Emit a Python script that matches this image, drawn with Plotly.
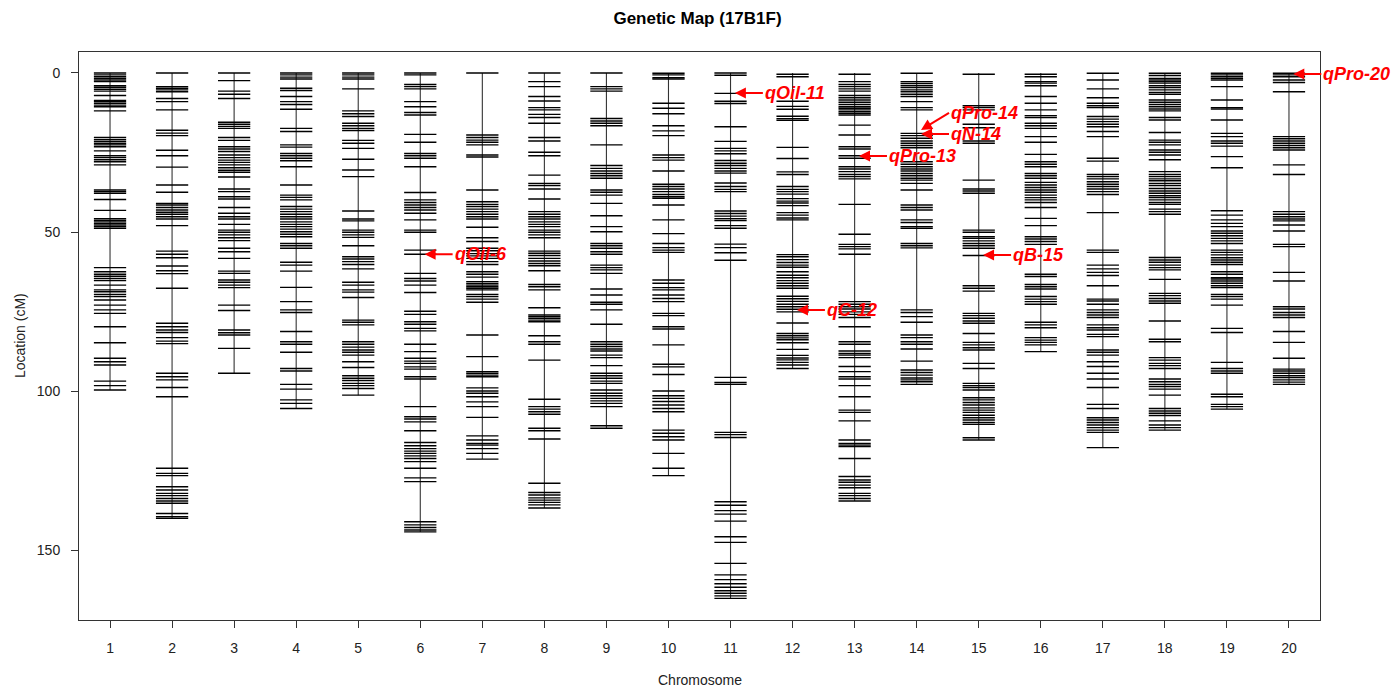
import plotly.graph_objects as go

# ---------------- data (marker positions in cM) ----------------
chr01 = [0, 0.6, 1.2, 1.7, 2.2, 2.7, 4.0, 4.5, 5.1, 5.7, 7.1, 8.6, 9.0, 9.5, 10.1, 10.6, 11.9,
         20.3, 21.0, 21.6, 22.2, 22.6, 23.2, 24.5, 26.0, 26.6, 27.3, 27.9, 28.9, 36.8, 37.3, 37.8,
         39.8, 43.2, 45.8, 46.3, 46.8, 47.3, 47.8, 48.3, 48.8, 61.2, 62.5, 63.3, 63.9, 64.6, 65.3,
         66.7, 68.2, 68.8, 69.6, 70.3, 71.4, 73.0, 74.5, 75.6, 79.8, 84.8, 89.7, 90.8, 91.8, 96.9,
         98.3, 99.7]
chr02 = [0, 4.3, 4.8, 5.3, 5.9, 8.0, 9.0, 11.6, 18.0, 18.9, 19.7, 24.3, 26.0, 29.6, 35.2, 37.5,
         41.0, 41.5, 42.3, 43.1, 43.8, 44.4, 45.2, 45.9, 48.0, 56.0, 57.0, 58.1, 60.7, 62.2, 63.1,
         67.7, 78.7, 79.8, 80.8, 81.6, 83.2, 84.3, 85.1, 94.4, 95.5, 96.5, 98.9, 101.8, 124.3, 125.9,
         126.6, 130.1, 131.1, 132.2, 132.9, 133.8, 134.6, 135.3, 138.5, 139.5, 140.0]
chr03 = [0, 2.4, 5.7, 6.7, 8.0, 15.5, 16.1, 16.8, 17.4, 20.3, 21.2, 23.2, 23.9, 24.7, 25.8, 26.6,
         27.4, 28.1, 28.9, 29.8, 30.6, 31.2, 32.7, 36.5, 37.3, 38.9, 39.6, 42.3, 44.1, 45.2, 45.9,
         47.6, 49.4, 50.1, 50.9, 51.8, 52.7, 55.1, 56.2, 58.3, 62.3, 63.0, 65.1, 65.8, 66.7, 67.5,
         73.0, 74.7, 80.8, 81.7, 82.4, 86.6, 94.4]
chr04 = [0, 0.6, 1.3, 1.9, 4.8, 5.5, 7.4, 9.0, 9.9, 11.4, 17.4, 18.4, 22.6, 23.3, 25.3, 26.0, 26.8,
         27.6, 29.5, 35.2, 38.4, 39.1, 39.9, 42.0, 42.8, 43.6, 44.4, 45.2, 45.9, 46.8, 47.6, 48.3,
         49.1, 49.9, 50.7, 51.5, 53.6, 54.3, 55.1, 59.5, 60.4, 62.3, 67.4, 71.9, 74.5, 75.3, 81.3,
         84.5, 85.3, 87.8, 92.9, 93.7, 97.9, 99.4, 102.8, 103.9, 105.5]
chr05 = [0, 0.6, 1.3, 1.9, 5.0, 11.9, 12.8, 13.7, 15.8, 16.6, 17.4, 18.1, 21.2, 22.1, 23.7, 27.1,
         30.5, 32.6, 43.4, 45.9, 46.5, 49.4, 50.1, 50.9, 51.7, 54.3, 57.8, 58.5, 59.3, 60.2, 61.6,
         65.8, 66.7, 68.2, 68.9, 70.6, 77.7, 78.4, 79.2, 84.5, 85.3, 86.2, 87.1, 87.8, 88.7, 90.8,
         92.6, 95.2, 96.0, 96.7, 97.6, 98.3, 99.2, 101.3]
chr06 = [0, 0.6, 3.6, 4.3, 5.0, 9.0, 10.6, 12.4, 13.2, 19.3, 21.8, 25.3, 26.0, 26.8, 29.5, 37.6,
         39.9, 40.7, 41.5, 42.3, 43.1, 44.1, 46.2, 49.4, 50.1, 55.7, 57.0, 63.0, 64.6, 65.4, 66.7,
         69.0, 74.9, 75.9, 78.2, 79.0, 80.3, 81.1, 85.3, 87.6, 89.7, 90.6, 91.3, 92.4, 93.1, 95.5,
         96.2, 104.9, 108.1, 108.8, 109.7, 112.5, 116.2, 117.2, 118.1, 118.9, 119.6, 120.4, 121.2,
         122.2, 124.3, 127.3, 128.5, 141.1, 142.1, 142.9, 143.7, 144.3]
chr07 = [0, 19.5, 20.3, 21.1, 21.8, 22.6, 25.8, 26.4, 36.8, 40.5, 41.3, 42.0, 42.8, 43.6, 44.4,
         45.2, 45.9, 48.5, 51.8, 53.0, 55.1, 55.9, 56.8, 57.5, 58.3, 59.3, 60.2, 62.5, 63.3, 64.2,
         65.6, 66.2, 66.7, 67.2, 67.7, 68.2, 69.6, 70.3, 71.1, 72.1, 82.4, 89.2, 93.9, 94.4, 95.0,
         95.5, 99.0, 100.0, 100.7, 101.8, 103.4, 104.9, 108.3, 114.1, 115.4, 116.5, 117.0, 118.1,
         119.6, 121.4]
chr08 = [0, 2.7, 4.3, 7.4, 8.8, 10.9, 11.6, 13.0, 14.0, 15.8, 20.3, 21.4, 24.9, 26.0, 32.1, 34.7,
         35.4, 36.5, 39.6, 43.6, 44.4, 45.2, 45.9, 46.8, 47.6, 48.3, 49.4, 50.1, 50.9, 51.8, 56.0,
         56.7, 57.4, 58.3, 59.1, 59.9, 60.6, 62.2, 66.5, 67.2, 68.2, 73.8, 76.1, 76.6, 77.1, 77.7,
         78.2, 82.6, 84.5, 85.3, 90.3, 102.6, 104.9, 105.7, 106.5, 107.3, 111.7, 112.5, 115.1,
         129.0, 131.9, 132.7, 133.6, 134.3, 135.0, 135.8, 136.8]
chr09 = [0, 4.3, 5.0, 5.7, 14.3, 15.1, 15.8, 16.6, 22.6, 29.1, 30.0, 30.8, 31.6, 32.3, 33.1, 36.8,
         37.5, 38.4, 41.0, 44.9, 48.3, 49.9, 53.6, 54.3, 55.1, 56.2, 57.0, 60.4, 61.2, 61.9, 63.0,
         67.9, 69.8, 72.1, 72.7, 74.5, 79.0, 84.5, 85.3, 86.0, 86.8, 87.4, 88.7, 89.5, 92.0, 94.4,
         95.2, 96.0, 96.9, 97.6, 99.7, 100.7, 101.5, 102.3, 103.1, 103.9, 104.9, 110.9, 111.7]
chr10 = [0.1, 0.6, 1.5, 1.9, 9.5, 11.1, 12.8, 16.6, 18.2, 19.7, 25.8, 26.6, 27.4, 30.8, 35.0, 35.7,
         36.5, 37.3, 38.2, 38.9, 39.4, 41.5, 46.2, 50.5, 53.6, 54.9, 55.7, 56.4, 65.1, 66.1, 67.5,
         68.2, 69.8, 70.9, 71.9, 75.6, 76.3, 79.8, 80.5, 85.5, 91.6, 92.4, 94.8, 100.0, 101.5,
         102.3, 103.3, 104.4, 105.5, 106.5, 112.3, 113.3, 114.4, 115.4, 119.6, 124.3, 126.6]
chr11 = [0, 0.7, 6.4, 8.9, 9.6, 16.9, 21.5, 23.7, 24.5, 25.4, 27.5, 28.4, 29.1, 30.0, 30.8, 31.5,
         34.6, 35.7, 36.6, 37.3, 43.4, 44.2, 45.0, 45.8, 46.4, 48.0, 48.8, 53.8, 54.9, 56.5, 58.9,
         95.7, 97.3, 97.9, 113.0, 113.7, 114.6, 134.8, 135.9, 137.6, 138.7, 140.9, 145.8, 147.6,
         154.2, 157.8, 159.3, 160.6, 161.7, 162.8, 163.6, 164.4, 165.2]
chr12 = [0.4, 1.2, 8.9, 10.5, 11.4, 13.6, 14.4, 14.9, 23.4, 26.9, 31.1, 31.9, 35.7, 36.6, 37.3,
         38.1, 39.5, 40.3, 40.9, 41.7, 43.9, 44.7, 45.6, 46.2, 57.1, 57.8, 58.7, 59.6, 60.4, 61.1,
         62.5, 63.6, 64.4, 65.3, 66.1, 66.9, 67.7, 70.2, 71.0, 71.8, 72.7, 73.5, 74.3, 75.1, 78.6,
         81.9, 82.6, 83.3, 83.9, 84.8, 86.9, 88.8, 89.6, 90.2, 91.0, 91.8, 92.9]
chr13 = [0.4, 2.7, 3.6, 4.3, 5.0, 5.7, 7.1, 7.8, 8.5, 9.2, 9.9, 10.6, 11.1, 11.6, 12.2, 12.7, 13.2,
         16.4, 19.5, 23.2, 23.9, 26.0, 26.8, 29.5, 30.2, 31.0, 31.9, 32.6, 33.3, 41.3, 50.7, 53.9,
         54.6, 55.3, 57.0, 71.9, 72.7, 73.5, 74.2, 75.1, 75.9, 76.9, 79.8, 84.5, 85.3, 87.4, 88.2,
         88.7, 89.5, 92.3, 93.9, 95.5, 96.2, 98.3, 101.8, 106.0, 106.7, 109.4, 115.4, 116.5, 117.0,
         117.5, 121.2, 126.9, 128.0, 128.7, 129.6, 130.4, 132.2, 132.9, 133.8, 134.6]
chr14 = [0.1, 2.7, 3.3, 4.0, 4.6, 5.3, 5.9, 6.7, 7.4, 9.0, 10.9, 11.6, 19.0, 19.7, 20.5, 21.4,
         22.1, 22.8, 23.5, 27.9, 28.7, 29.5, 30.2, 30.8, 31.6, 32.3, 33.1, 33.7, 34.7, 36.8, 41.5,
         42.3, 43.1, 46.2, 47.0, 48.3, 48.8, 53.6, 54.3, 55.0, 74.5, 75.3, 76.6, 78.4, 82.4, 83.2,
         84.5, 85.3, 86.8, 90.6, 93.4, 94.2, 95.0, 95.9, 96.5, 97.1, 97.9]
chr15 = [0.4, 10.3, 10.9, 11.6, 16.1, 17.2, 21.4, 22.1, 33.7, 36.5, 37.1, 37.8, 49.4, 50.1, 51.5,
         52.0, 52.8, 53.6, 54.3, 55.1, 57.4, 66.9, 67.7, 68.6, 75.6, 76.3, 77.1, 78.0, 78.7, 81.9,
         84.7, 85.5, 86.4, 87.1, 91.3, 92.9, 97.6, 98.3, 98.9, 99.7, 102.1, 102.8, 103.6, 104.4,
         105.3, 106.0, 106.7, 107.6, 108.4, 109.1, 109.9, 110.5, 114.7, 115.4]
chr16 = [0.4, 1.2, 2.7, 3.2, 4.0, 7.4, 9.5, 11.6, 13.4, 14.0, 15.8, 16.6, 17.4, 20.0, 21.8, 25.6,
         27.9, 28.7, 29.5, 31.6, 32.3, 33.1, 34.4, 35.2, 36.0, 36.8, 37.5, 38.4, 39.2, 39.9, 40.7,
         42.3, 45.7, 48.0, 51.5, 52.2, 53.0, 53.9, 63.3, 64.0, 66.5, 67.2, 67.9, 70.3, 71.1, 71.9,
         72.7, 78.4, 79.2, 80.1, 83.2, 84.0, 84.7, 85.5, 87.6]
chr17 = [0.1, 2.2, 5.0, 7.8, 9.5, 10.3, 10.9, 13.7, 14.5, 15.3, 16.1, 16.9, 18.4, 20.0, 26.8, 27.7,
         31.9, 32.6, 33.3, 34.2, 35.0, 35.7, 36.5, 37.3, 38.2, 43.9, 55.7, 56.4, 60.4, 61.6, 62.7,
         63.7, 66.9, 71.1, 71.7, 72.7, 74.5, 75.3, 76.1, 76.9, 79.2, 80.1, 80.8, 82.2, 82.9, 87.1,
         87.8, 88.7, 90.8, 92.3, 94.4, 96.2, 98.9, 104.2, 105.5, 108.4, 109.1, 109.9, 110.7, 111.5,
         112.3, 113.0, 117.8]
chr18 = [0.1, 0.8, 1.7, 2.2, 2.7, 3.2, 4.0, 4.6, 5.3, 6.1, 6.7, 8.5, 9.2, 9.9, 10.6, 11.3, 11.9,
         14.0, 14.8, 18.7, 21.1, 21.8, 22.6, 24.2, 24.9, 25.8, 27.3, 31.0, 31.9, 32.6, 33.3, 33.9,
         34.7, 35.4, 36.3, 37.1, 37.8, 38.6, 39.2, 39.9, 40.7, 41.3, 42.8, 43.6, 44.4, 58.0, 58.8,
         59.5, 60.4, 61.2, 61.9, 64.9, 69.3, 70.0, 70.9, 71.7, 72.4, 78.0, 83.7, 84.5, 89.5, 90.3,
         91.3, 92.0, 92.9, 96.2, 97.1, 97.9, 98.6, 99.4, 101.3, 105.5, 106.3, 107.0, 107.7, 109.4,
         110.7, 111.5, 112.3]
chr19 = [0.1, 0.6, 1.2, 1.7, 2.2, 4.3, 8.5, 10.9, 11.3, 14.8, 19.0, 20.0, 21.4, 22.1, 23.0, 26.3,
         29.8, 43.3, 44.7, 46.2, 47.3, 48.3, 49.7, 50.4, 51.2, 52.0, 52.8, 53.6, 55.7, 56.4, 57.2,
         58.1, 58.8, 59.5, 60.2, 62.5, 63.3, 64.4, 64.8, 65.4, 66.1, 66.9, 67.5, 69.6, 70.3, 71.1,
         73.0, 80.3, 81.6, 91.0, 92.9, 93.7, 94.4, 101.0, 101.8, 104.2, 104.9, 105.7]
chr20 = [0.1, 0.6, 1.2, 2.2, 3.0, 5.9, 20.0, 20.7, 21.4, 22.1, 22.8, 23.5, 24.2, 28.9, 31.9, 43.6,
         44.4, 45.2, 45.9, 46.5, 47.8, 49.7, 53.9, 54.6, 62.7, 65.4, 73.5, 74.2, 75.3, 76.1, 76.9,
         81.3, 84.7, 89.7, 93.1, 93.7, 94.4, 95.2, 95.8, 96.5, 97.2, 97.9]

chromosomes = [chr01, chr02, chr03, chr04, chr05, chr06, chr07, chr08, chr09, chr10,
               chr11, chr12, chr13, chr14, chr15, chr16, chr17, chr18, chr19, chr20]
chrom_labels = [str(i) for i in range(1, 21)]

# QTL annotations
qtl_names = ["qOil-6", "qOil-11", "qC-12", "qPro-13", "qPro-14", "qN-14", "qB-15", "qPro-20"]
qtl_chrom = [6, 11, 12, 13, 14, 14, 15, 20]
qtl_pos = [57.0, 6.3, 74.5, 26.1, 17.9, 19.2, 57.2, 0.3]

y_ticks = [0, 50, 100, 150]

# ---------------- figure ----------------
HALF = 0.26
fig = go.Figure()

for i, pos in enumerate(chromosomes):
    c = i + 1
    # backbone
    fig.add_trace(go.Scatter(x=[c, c], y=[min(0, min(pos)), max(pos)], mode="lines",
                             line=dict(color="rgba(0,0,0,0.8)", width=1.1),
                             hoverinfo="skip", showlegend=False))
    xs, ys = [], []
    for p in pos:
        xs += [c - HALF, c + HALF, None]
        ys += [p, p, None]
    fig.add_trace(go.Scatter(x=xs, y=ys, mode="lines",
                             line=dict(color="black", width=1.4),
                             hoverinfo="skip", showlegend=False))

annotations = []
offsets = {"qPro-14": (28, -17)}
for name, c, p in zip(qtl_names, qtl_chrom, qtl_pos):
    ax, ay = offsets.get(name, (28, 0))
    annotations.append(dict(x=c + 0.07, y=p, xref="x", yref="y", text=name,
                            showarrow=True, ax=ax, ay=ay, axref="pixel", ayref="pixel",
                            xanchor="left", yanchor="middle",
                            arrowhead=2, arrowsize=1.1, arrowwidth=2, arrowcolor="#ff0000",
                            standoff=0, startstandoff=0,
                            font=dict(family="Liberation Sans", size=18, color="#ff0000",
                                      weight="bold", style="italic")))

annotations.append(dict(text="Chromosome", x=0.5, y=-0.105, xref="paper", yref="paper",
                        xanchor="center", yanchor="middle", showarrow=False,
                        font=dict(family="Liberation Sans", size=14, color="#222")))
annotations.append(dict(text="Location (cM)", x=-0.0475, y=0.5, xref="paper", yref="paper",
                        xanchor="center", yanchor="middle", showarrow=False, textangle=-90,
                        font=dict(family="Liberation Sans", size=14, color="#222")))

fig.update_layout(
    width=1395, height=693,
    margin=dict(l=79, r=75, t=52, b=73),
    plot_bgcolor="white", paper_bgcolor="white",
    title=dict(text="<b>Genetic Map (17B1F)</b>", x=0.5, xanchor="center",
               y=1 - 18 / 693, yanchor="middle", yref="container",
               font=dict(family="Liberation Sans", size=17, color="black")),
    annotations=annotations,
    xaxis=dict(range=[0.5, 20.5], tickmode="array", tickvals=list(range(1, 21)),
               ticktext=chrom_labels, ticks="outside", ticklen=7, tickcolor="#333",
               showline=True, linecolor="#333", linewidth=1, mirror=True,
               showgrid=False, zeroline=False, ticklabelstandoff=8,
               tickfont=dict(family="Liberation Sans", size=14, color="#222")),
    yaxis=dict(range=[172, -6.6], tickmode="array", tickvals=y_ticks,
               ticks="outside", ticklen=7, tickcolor="#333",
               showline=True, linecolor="#333", linewidth=1, mirror=True,
               showgrid=False, zeroline=False, ticklabelstandoff=8,
               tickfont=dict(family="Liberation Sans", size=14, color="#222")),
)

fig.write_html("out.html")
